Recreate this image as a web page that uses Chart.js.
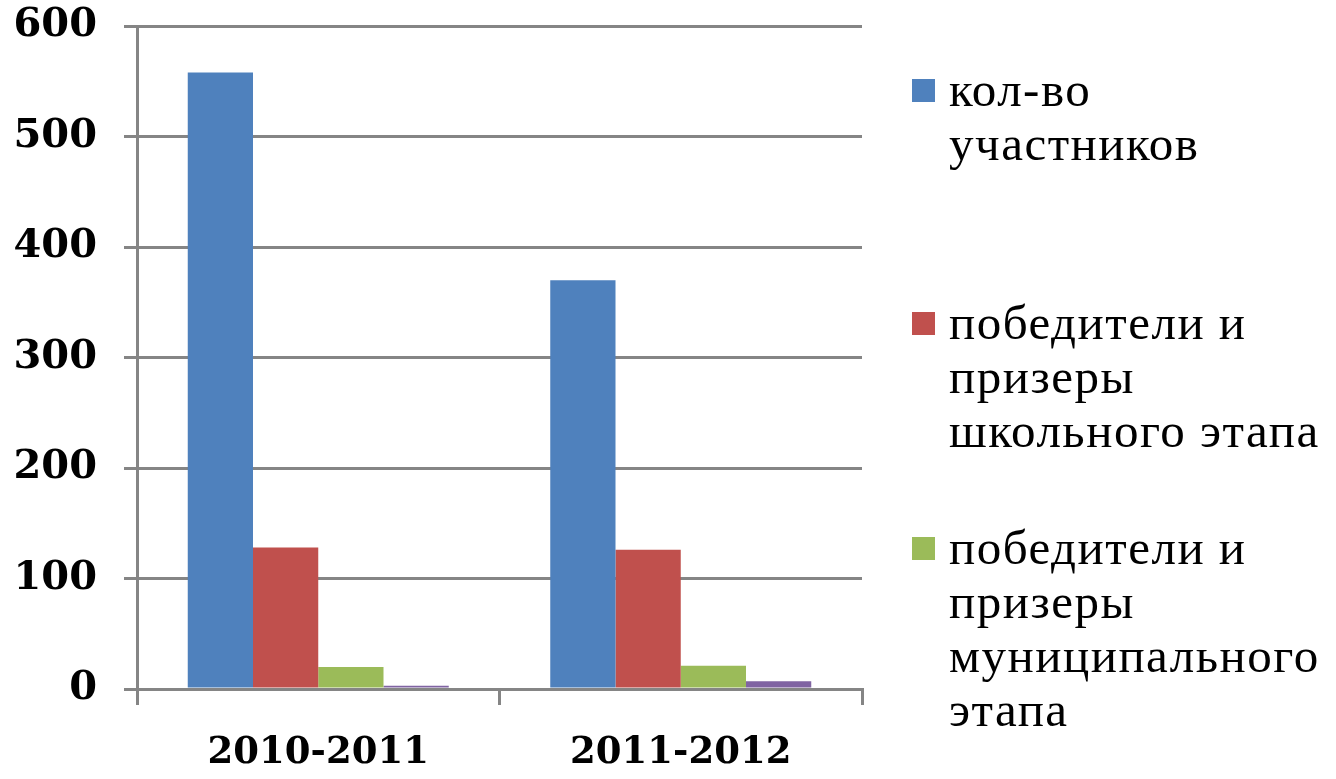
<!DOCTYPE html>
<html lang="ru">
<head>
    <meta charset="UTF-8">
    <title>Участники олимпиады</title>
    <script src="https://cdn.jsdelivr.net/npm/chart.js"></script>
    <style>
        body {
            margin: 0;
            background: #fff;
        }
        .wrap {
            position: relative;
            width: 1336px;
            height: 779px;
            overflow: hidden;
        }
        #legend {
            position: absolute;
            left: 912px;
            top: 0;
            font-family: 'Liberation Serif', serif;
            font-size: 49px;
            letter-spacing: 1.5px;
            line-height: 54px;
            color: #000;
        }
        .item {
            position: absolute;
            left: 0;
            white-space: nowrap;
        }
        .box {
            position: absolute;
            left: 0;
            top: 16px;
            width: 23px;
            height: 23px;
        }
        .txt {
            position: absolute;
            left: 37px;
            top: 0;
        }
    </style>
</head>
<body>
    <div class="wrap">
        <canvas id="chart"></canvas>
        <div id="legend"></div>
    </div>

    <script>
        const years = ['2010-2011', '2011-2012'];
        const seriesNames = [
            ['кол-во', 'участников'],
            ['победители и', 'призеры', 'школьного этапа'],
            ['победители и', 'призеры', 'муниципального', 'этапа'],
            ['победители и', 'призеры', 'регионального', 'этапа']
        ];
        const participants = [558, 370];
        const schoolWinners = [128, 126];
        const municipalWinners = [20, 21];
        const regionalWinners = [3, 7];
        const colors = ['#4F81BD', '#C0504D', '#9BBB59', '#8064A2'];
        const yTicks = [0, 100, 200, 300, 400, 500, 600];

        // legend entry tops (only three fit in the picture)
        const legendTops = [63, 296, 521];

        const values = [participants, schoolWinners, municipalWinners, regionalWinners];
        const axisGray = '#858585';

        const chart = new Chart(document.getElementById('chart'), {
            type: 'bar',
            data: {
                labels: years,
                datasets: values.map((v, i) => ({
                    label: seriesNames[i].join(' '),
                    data: v,
                    backgroundColor: colors[i],
                    borderWidth: 0,
                    categoryPercentage: 0.72,
                    barPercentage: 1
                }))
            },
            options: {
                responsive: true,
                maintainAspectRatio: false,
                animation: false,
                layout: {
                    padding: { left: 0, right: 474, top: 26, bottom: 0 }
                },
                plugins: {
                    legend: { display: false },
                    tooltip: { enabled: false }
                },
                scales: {
                    x: {
                        afterFit: s => { s.height = 90; s.paddingLeft = 0; s.paddingRight = 0; },
                        border: { display: true, color: axisGray, width: 3 },
                        grid: {
                            offset: true,
                            drawOnChartArea: false,
                            drawTicks: true,
                            tickLength: 16,
                            color: axisGray,
                            lineWidth: 3
                        },
                        ticks: {
                            color: '#000',
                            padding: 26,
                            font: { family: 'DejaVu Serif', size: 37, weight: 'bold' }
                        }
                    },
                    y: {
                        min: 0,
                        max: 600,
                        // keep the chart area where the reference has it
                        afterFit: s => { s.width = 137; s.paddingTop = 0; s.paddingBottom = 0; },
                        afterBuildTicks: s => { s.ticks = yTicks.map(v => ({ value: v })); },
                        border: { display: true, color: axisGray, width: 3 },
                        grid: {
                            color: axisGray,
                            lineWidth: 3,
                            drawTicks: true,
                            tickLength: 13
                        },
                        ticks: {
                            color: '#000',
                            padding: 27,
                            font: { family: 'DejaVu Serif', size: 40, weight: 'bold' }
                        }
                    }
                }
            }
        });

        // html legend built from the datasets
        const legend = document.getElementById('legend');
        legendTops.forEach((top, i) => {
            const item = document.createElement('div');
            item.className = 'item';
            item.style.top = top + 'px';
            const box = document.createElement('div');
            box.className = 'box';
            box.style.background = chart.data.datasets[i].backgroundColor;
            const txt = document.createElement('div');
            txt.className = 'txt';
            txt.innerHTML = seriesNames[i].join('<br>');
            item.appendChild(box);
            item.appendChild(txt);
            legend.appendChild(item);
        });
    </script>
</body>
</html>
